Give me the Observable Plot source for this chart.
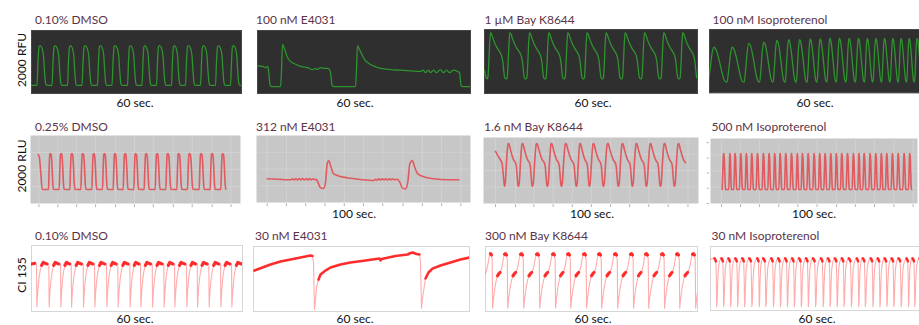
<!DOCTYPE html>
<html><head><meta charset="utf-8">
<script src="https://cdn.jsdelivr.net/npm/d3@7"></script>
<script src="https://cdn.jsdelivr.net/npm/@observablehq/plot@0.6"></script>
<style>
html,body{margin:0;padding:0;background:#fff;overflow:hidden;}
#root{position:relative;width:919px;height:325px;overflow:hidden;font-family:Lato,"Open Sans",sans-serif;}
.t{position:absolute;white-space:nowrap;font-size:12px;line-height:14px;color:#5b3447;}
.xl{position:absolute;white-space:nowrap;font-size:12px;line-height:14px;color:#111;transform:translateX(-50%);}
.xl3{position:absolute;white-space:nowrap;font-size:12px;line-height:11px;color:#111;transform:translateX(-50%);}
.yl{position:absolute;white-space:nowrap;font-size:12px;line-height:14px;color:#111;transform:translate(-50%,-50%) rotate(-90deg);}
.p{position:absolute;line-height:0;}
</style></head><body><div id="root"></div><script>
// ---------- Row 1: fluorescence (RFU), 60 s windows ----------
const r1Titles = ["0.10% DMSO", "100 nM E4031", "1 µM Bay K8644", "100 nM Isoproterenol"];
const r1DmsoBeats = [1.57, 5.86, 10.29, 14.43, 18.86, 23.0, 27.43, 31.57, 35.71, 40.0, 44.0, 48.29, 52.57, 56.86, 61.0];
const r1DmsoShape = [[0,0.13],[0.067,0.5],[0.133,0.74],[0.2,0.76],[0.333,0.72],[0.433,0.6],[0.5,0.35],[0.567,0.17],[0.633,0.13]];
const r1DmsoLead = [[0,0.13]];
const r1E4031 = [[0,0.44],[1.41,0.43],[2.25,0.41],[2.82,0.43],[3.10,0.37],[3.52,0.14],[3.94,0.11],[6.48,0.11],[6.76,0.37],[7.04,0.78],[7.61,0.71],[8.45,0.57],[9.30,0.51],[10.14,0.48],[12.11,0.43],[14.08,0.41],[15.49,0.38],[16.34,0.40],[16.9,0.38],[17.75,0.41],[18.6,0.40],[19.72,0.40],[20.28,0.38],[20.56,0.33],[20.99,0.14],[21.41,0.11],[27.61,0.11],[27.89,0.37],[28.17,0.76],[28.73,0.70],[29.58,0.60],[30.42,0.52],[31.27,0.48],[32.96,0.43],[34.65,0.40],[37.46,0.38],[40.28,0.37],[43.1,0.36],[45.92,0.35],[46.76,0.37],[47.32,0.33],[48.17,0.37],[48.73,0.33],[49.58,0.37],[50.42,0.33],[51.55,0.38],[52.39,0.33],[53.24,0.37],[54.08,0.33],[55.21,0.37],[56.34,0.35],[56.9,0.33],[57.32,0.14],[57.75,0.11],[60,0.11]];
const r1BayBeats = [0.76, 6.20, 11.75, 17.18, 22.54, 27.97, 33.32, 38.68, 44.14, 49.58, 54.93, 60.3];
const r1BayShape = [[0,0.23],[0.036,0.25],[0.078,0.45],[0.13,0.80],[0.172,0.95],[0.224,0.93],[0.3125,0.85],[0.417,0.77],[0.52,0.71],[0.625,0.66],[0.703,0.62],[0.755,0.58],[0.807,0.50],[0.859,0.35],[0.901,0.25],[0.964,0.23]];
const r1BayLead = [[0,0.36],[0.3,0.28]];
const r1IsoBeats = [-0.38, 5.00, 9.91, 14.34, 18.21, 21.65, 24.81, 27.92, 30.75, 33.58, 36.28, 39.05, 41.75, 44.34, 46.74, 49.24, 51.65, 54.0, 56.36, 58.58, 60.94];
const r1IsoPeaks = [0.72, 0.72, 0.78, 0.80, 0.83, 0.84, 0.84, 0.85, 0.85, 0.86, 0.86, 0.86, 0.86, 0.86, 0.86, 0.86, 0.86, 0.86, 0.86, 0.86];
const r1IsoShape = [[0,0],[0.1,0.35],[0.2,0.8],[0.3,1],[0.42,0.93],[0.55,0.7],[0.7,0.35],[0.82,0.1],[0.92,0.01]];
const r1IsoBase = 0.17;

// ---------- Row 2: luminescence (RLU), 100 s windows ----------
const r2Titles = ["0.25% DMSO", "312 nM E4031", "1.6 nM Bay K8644", "500 nM Isoproterenol"];
const r2DmsoBeats = [8.57, 13.65, 18.73, 23.97, 29.21, 34.29, 39.37, 44.13, 49.21, 54.13, 59.37, 64.44, 69.68, 74.76, 80.32, 85.56, 90.63, 95.71];
const r2DmsoShape = [[0,0.206],[0.06,0.5],[0.12,0.72],[0.18,0.735],[0.26,0.71],[0.33,0.55],[0.40,0.3],[0.46,0.21]];
const r2DmsoLead = [[3.65,0.72],[4.2,0.68],[4.9,0.45],[5.56,0.21]];
const r2DmsoEnd = 94.44;
const r2E4031 = [[5.0,0.354],[8,0.35],[11,0.345],[14,0.34],[15.89,0.339],[16.8,0.352],[17.6,0.335],[18.4,0.356],[19.2,0.338],[20,0.357],[20.8,0.336],[21.6,0.358],[22.4,0.337],[23.2,0.356],[24,0.336],[24.8,0.357],[25.6,0.338],[26.4,0.355],[27.2,0.34],[28.04,0.343],[29.11,0.269],[29.91,0.219],[31.45,0.209],[32.24,0.303],[33.04,0.578],[33.79,0.627],[34.58,0.552],[35.84,0.437],[37.71,0.403],[42.38,0.369],[48.6,0.343],[54.81,0.328],[55.6,0.347],[56.4,0.334],[57.2,0.352],[58,0.336],[58.8,0.354],[59.6,0.337],[60.4,0.355],[61.2,0.336],[62,0.353],[62.8,0.338],[63.6,0.354],[64.4,0.34],[65.75,0.348],[66.96,0.303],[68.09,0.219],[69.63,0.204],[70.70,0.303],[71.64,0.578],[72.76,0.627],[73.83,0.537],[75.10,0.437],[77.43,0.393],[82.85,0.354],[89.11,0.339],[94.54,0.339]];
const r2BayBeats = [9.77, 16.28, 22.79, 29.77, 36.28, 43.26, 49.30, 55.81, 62.79, 69.30, 75.81, 82.33, 88.84, 95.35];
const r2BayShape = [[0,0.26],[0.05,0.3],[0.15,0.65],[0.25,0.9],[0.3,0.91],[0.42,0.82],[0.55,0.72],[0.68,0.65],[0.78,0.62],[0.85,0.56],[0.9,0.42],[0.96,0.28]];
const r2BayLead = [[5.58,0.79],[6.98,0.71],[7.9,0.66],[8.7,0.6],[9.3,0.4]];
const r2BayEnd = 93.95;
const r2IsoBeats = [5.64, 8.86, 11.27, 14.01, 16.75, 19.32, 22.06, 24.96, 27.70, 30.44, 33.02, 35.75, 38.49, 41.39, 43.81, 46.54, 49.44, 52.18, 54.76, 57.49, 60.23, 62.80, 65.54, 68.44, 71.18, 73.59, 76.49, 79.23, 81.97, 84.54, 87.28, 90.02, 92.92, 95.65, 98.39];
const r2IsoShape = [[0,0.215],[0.1,0.5],[0.2,0.76],[0.27,0.77],[0.35,0.6],[0.43,0.35],[0.5,0.23],[0.56,0.215]];
const r2IsoEnd = 97.42;
const r2DmsoTicks = [4, 13, 22, 31, 40.5, 49.5, 58.5, 68, 77, 86.5, 95.5];
const r2E4031Ticks = [5, 14, 23, 32, 41, 50, 59, 68.5, 77.5, 86.5, 95.5];
const r2BayTicks = [5.6, 14.9, 23.4, 32.4, 41.3, 50.2, 59.1, 68, 76.9, 85.9, 95.1];
const r2IsoTicks = [5.3, 14.5, 23.7, 33, 42.2, 51.5, 60.9, 70, 79.2, 88.6, 97.9];
const r2IsoYTicks = [0, 0.235, 0.47, 0.70, 0.935];
const r2Grid = [0.25, 0.5, 0.75];

// ---------- Row 3: impedance (CI 135), 60 s windows ----------
const r3Titles = ["0.10% DMSO", "30 nM E4031", "300 nM Bay K8644", "30 nM Isoproterenol"];
const r3DmsoBeats = [1.42, 4.92, 8.25, 11.29, 14.70, 17.92, 21.33, 24.54, 27.96, 31.0, 34.33, 37.63, 40.67, 44.08, 47.12, 50.42, 53.75, 56.88, 60.2];
const r3DmsoShape = [[0,0.72],[0.03,0.07],[0.1,0.3],[0.2,0.5],[0.3,0.62],[0.42,0.7,1],[0.55,0.745,1],[0.7,0.73,1],[0.85,0.72,1],[0.95,0.72]];
const r3DmsoLead = [[0,0.72,1],[0.9,0.73,1]];
const r3E4031 = [[0.28,0.63],[2.5,0.677],[4.72,0.723],[7.5,0.769],[10.28,0.80],[13.06,0.83],[15.83,0.862],[16.39,0.854],[16.67,0.754],[16.94,0.03],[17.22,0.17],[17.5,0.37],[18.06,0.49],[18.61,0.57],[20.0,0.63],[21.39,0.677],[24.17,0.723],[26.94,0.754],[31.11,0.785],[35.0,0.815],[35.28,0.785],[35.56,0.808],[39.44,0.854],[42.78,0.877],[43.33,0.892],[44.17,0.908],[45.28,0.885],[46.11,0.877],[46.39,0.754],[46.67,0.046],[46.94,0.2],[47.36,0.354],[47.78,0.508],[48.61,0.6],[49.72,0.66],[51.94,0.708],[54.72,0.754],[57.5,0.80],[60.0,0.83]];
const r3E4031Faint = [[16.5,17.8],[46.2,47.5]];
const r3BayBeats = [1.42, 5.66, 10.19, 14.72, 19.24, 23.49, 28.02, 32.26, 36.79, 41.32, 45.56, 50.09, 54.34, 58.86, 63.3];
const r3BayShape = [[0,0.89,1],[0.06,0.87,1],[0.11,0.8],[0.14,0.05],[0.2,0.2],[0.3,0.38],[0.4,0.5],[0.47,0.55,1],[0.55,0.58,1],[0.63,0.6,1],[0.7,0.63],[0.78,0.7],[0.86,0.82],[0.94,0.88,1]];
const r3BayLead = [[0,0.585],[0.6,0.7],[1.1,0.86]];
const r3IsoBeats = [1.14, 3.14, 5.14, 7.14, 9.14, 11.14, 13.43, 15.14, 17.43, 19.43, 21.43, 23.43, 25.43, 27.43, 29.43, 31.71, 33.71, 35.71, 37.71, 39.71, 42.0, 43.71, 46.0, 48.0, 50.0, 52.0, 54.0, 56.29, 58.0, 60.0];
const r3IsoShape = [[0,0.815,1],[0.1,0.8,1],[0.2,0.77,1],[0.27,0.5],[0.32,0.06],[0.38,0.12],[0.45,0.4],[0.55,0.65],[0.7,0.76],[0.85,0.8],[0.93,0.81]];
const r3IsoLead = [[0,0.8]];

const yLabels = ["2000 RFU", "2000 RLU", "CI 135"];
const xLabels = ["60 sec.", "100 sec.", "60 sec."];

// ---------- helpers ----------
function fromPairs(arr, faint) {
  return arr.map(([t, v, d]) => ({t, v, d: faint ? !faint.some(([a, b]) => t >= a && t <= b) : !!d}));
}
function fromBeats(beats, shape, opt = {}) {
  const pts = fromPairs(opt.lead || []);
  const scale = (i, v) => opt.peaks ? opt.base + v * (opt.peaks[Math.min(i, opt.peaks.length - 1)] - opt.base) : v;
  for (let i = 0; i < beats.length - 1; i++) {
    const t0 = beats[i], t1 = beats[i + 1];
    for (const [ph, v, d] of shape) pts.push({t: t0 + ph * (t1 - t0), v: scale(i, v), d: !!d});
  }
  const [, v0, d0] = shape[0];
  pts.push({t: beats[beats.length - 1], v: scale(beats.length - 1, v0), d: !!d0});
  return opt.end != null ? pts.filter(p => p.t <= opt.end) : pts;
}

const root = document.getElementById("root");
function addText(cls, text, x, y) {
  const el = document.createElement("div");
  el.className = cls; el.textContent = text;
  el.style.left = x + "px"; el.style.top = y + "px";
  root.appendChild(el);
}
function panel(cfg) {
  const {left, top, w, h, dur, bg, border, ml = 0, mr = 0, mt = 0, mb = 0, marks} = cfg;
  const svg = Plot.plot({
    width: w + ml + mr, height: h + mt + mb,
    marginLeft: ml, marginRight: mr, marginTop: mt, marginBottom: mb,
    x: {domain: [0, dur], axis: null},
    y: {domain: [0, 1], axis: null},
    style: {background: "transparent", overflow: "visible"},
    marks: [Plot.frame({fill: bg, stroke: border || "none"}), ...marks]
  });
  const div = document.createElement("div");
  div.className = "p";
  div.style.left = (left - ml) + "px"; div.style.top = (top - mt) + "px";
  div.appendChild(svg); root.appendChild(div);
}
function rfuLine(pts) {
  return [Plot.line(pts, {x: "t", y: "v", stroke: "#2f932f", strokeWidth: 1.3, curve: "monotone-x", clip: true})];
}
function rluMarks(pts, ticks) {
  return [
    Plot.ruleX(ticks, {x: d => d, stroke: "#d6d6d6", strokeWidth: 0.7}),
    Plot.ruleY(r2Grid, {y: d => d, stroke: "#d6d6d6", strokeWidth: 0.7}),
    Plot.ruleX(ticks, {x: d => d, y1: -0.02, y2: -0.06, stroke: "#9a9a9a", strokeWidth: 0.8}),
    Plot.line(pts, {x: "t", y: "v", stroke: "#e4474c", strokeOpacity: 0.85, strokeWidth: 1.6, curve: "monotone-x", clip: true})
  ];
}
function ciMarks(pts, blob = 3.2) {
  return [
    Plot.line(pts, {x: "t", y: "v", stroke: "#ff3030", strokeOpacity: 0.4, strokeWidth: 1.1, clip: true}),
    Plot.line(pts, {x: "t", y: d => d.d ? d.v : NaN, stroke: "#ff1a1a", strokeOpacity: 0.9, strokeWidth: blob, clip: true})
  ];
}

const R1BG = "#2f2f2f", R1BD = "#474747", R2BG = "#c7c7c7", R3BD = "#d6d6d6";

// Row 1
panel({left: 31, top: 30, w: 210, h: 63, dur: 60, bg: R1BG, border: R1BD,
  marks: rfuLine(fromBeats(r1DmsoBeats, r1DmsoShape, {lead: r1DmsoLead}))});
panel({left: 257, top: 30, w: 213, h: 63, dur: 60, bg: R1BG, border: R1BD,
  marks: rfuLine(fromPairs(r1E4031))});
panel({left: 484, top: 29, w: 213, h: 64, dur: 60, bg: R1BG, border: R1BD,
  marks: rfuLine(fromBeats(r1BayBeats, r1BayShape, {lead: r1BayLead}))});
panel({left: 709, top: 29, w: 212, h: 64, dur: 60, bg: R1BG, border: R1BD,
  marks: rfuLine(fromBeats(r1IsoBeats, r1IsoShape, {peaks: r1IsoPeaks, base: r1IsoBase}))});

// Row 2
panel({left: 30, top: 135, w: 210, h: 68, dur: 100, bg: R2BG, mb: 6,
  marks: rluMarks(fromBeats(r2DmsoBeats, r2DmsoShape, {lead: r2DmsoLead, end: r2DmsoEnd}), r2DmsoTicks)});
panel({left: 256, top: 135, w: 214, h: 67, dur: 100, bg: R2BG, mb: 6,
  marks: rluMarks(fromPairs(r2E4031), r2E4031Ticks)});
panel({left: 483, top: 137, w: 215, h: 66, dur: 100, bg: R2BG, mb: 6,
  marks: rluMarks(fromBeats(r2BayBeats, r2BayShape, {lead: r2BayLead, end: r2BayEnd}), r2BayTicks)});
panel({left: 710, top: 138, w: 207, h: 65, dur: 100, bg: R2BG, mb: 6, ml: 5,
  marks: [...rluMarks(fromBeats(r2IsoBeats, r2IsoShape, {end: r2IsoEnd}), r2IsoTicks),
    Plot.ruleY(r2IsoYTicks, {y: d => d, x1: -1.6, x2: -0.6, stroke: "#9a9a9a", strokeWidth: 0.8})]});

// Row 3
panel({left: 31, top: 245, w: 211, h: 66, dur: 60, bg: "#fff", border: R3BD,
  marks: ciMarks(fromBeats(r3DmsoBeats, r3DmsoShape, {lead: r3DmsoLead}))});
panel({left: 253, top: 246, w: 216, h: 65, dur: 60, bg: "#fff", border: R3BD,
  marks: ciMarks(fromPairs(r3E4031, r3E4031Faint), 2.6)});
panel({left: 485, top: 246, w: 212, h: 65, dur: 60, bg: "#fff", border: R3BD,
  marks: ciMarks(fromBeats(r3BayBeats, r3BayShape, {lead: r3BayLead}))});
panel({left: 710, top: 246, w: 212, h: 65, dur: 60, bg: "#fff", border: R3BD,
  marks: ciMarks(fromBeats(r3IsoBeats, r3IsoShape, {lead: r3IsoLead}), 2.6)});

// Text
const titleX = [[35, 256, 484.5, 712.5], [35, 256, 484, 711.5], [35, 255, 485, 711.5]];
const titleY = [12.7, 120.1, 229.1];
[r1Titles, r2Titles, r3Titles].forEach((row, r) => row.forEach((t, c) => addText("t", t, titleX[r][c], titleY[r])));
const xLabelPos = [[[135, 355, 593, 815], 95.7, "xl"], [[354, 592, 814], 206.7, "xl"], [[135, 355, 593, 817], 313.2, "xl3"]];
xLabelPos.forEach(([xs, y, cls], r) => xs.forEach(x => addText(cls, xLabels[r], x, y)));
const yLabelPos = [60, 166, 275];
yLabels.forEach((t, r) => addText("yl", t, 22, yLabelPos[r]));
</script></body></html>
